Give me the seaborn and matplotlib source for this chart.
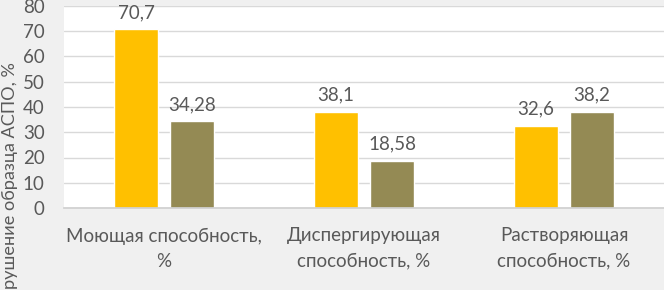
import matplotlib
matplotlib.use("Agg")
import matplotlib.pyplot as plt
import seaborn as sns
import pandas as pd

categories = ["Моющая способность,\n%", "Диспергирующая\nспособность, %", "Растворяющая\nспособность, %"]
series_names = ["Образец 1", "Образец 2"]
series1 = [70.7, 38.1, 32.6]
series2 = [34.28, 18.58, 38.2]
y_ticks = [0, 10, 20, 30, 40, 50, 60, 70, 80]
y_label = "рушение образца АСПО, %"

rows = []
for c, v in zip(categories, series1):
    rows.append({"cat": c, "series": series_names[0], "val": v})
for c, v in zip(categories, series2):
    rows.append({"cat": c, "series": series_names[1], "val": v})
df = pd.DataFrame(rows)

sns.set_theme(style="white")
plt.rcParams["font.family"] = ["Lato", "DejaVu Sans"]

text_color = "#595959"
fs = 13.5
fig = plt.figure(figsize=(6.64, 2.90), dpi=100, facecolor="#f0f0f0")
ax = fig.add_axes([64/664, (290-208)/290, 1 - 64/664, (208-6)/290])
ax.set_facecolor("white")

sns.barplot(data=df, x="cat", y="val", hue="series", order=categories,
            hue_order=series_names, palette=["#FFC000", "#948A54"],
            width=0.56, gap=0.2, ax=ax, legend=False, saturation=1)

ax.set_ylim(0, 80)
ax.set_xlim(-0.5, 2.5)
ax.set_yticks(y_ticks)
ax.yaxis.grid(True, color="#d9d9d9", linewidth=1)
ax.set_axisbelow(True)
for s in ["top", "right", "left"]:
    ax.spines[s].set_visible(False)
ax.spines["bottom"].set_color("#d0d0d0")
ax.tick_params(axis="y", length=0, pad=14, labelsize=fs, labelcolor=text_color)
ax.tick_params(axis="x", length=0, pad=14, labelsize=fs, labelcolor=text_color)
for t in ax.get_xticklabels():
    t.set_linespacing(1.6)
ax.set_xlabel("")
ax.set_ylabel("")

for cont in ax.containers:
    labels = [f"{v:g}".replace(".", ",") for v in cont.datavalues]
    ax.bar_label(cont, labels=labels, padding=6, fontsize=fs, color=text_color)

fig.text(10/664, 1/290, y_label, rotation=90, ha="center", va="bottom",
         fontsize=13.1, color=text_color)

fig.savefig("out.png", dpi=100, facecolor=fig.get_facecolor())
